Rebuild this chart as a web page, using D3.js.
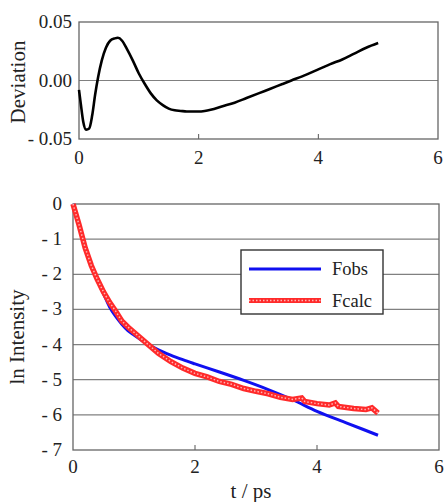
<!DOCTYPE html>
<html>
<head>
<meta charset="utf-8">
<script src="https://cdn.jsdelivr.net/npm/d3@7"></script>
<style>
  body { margin: 0; background: #fff; }
  text { font-family: "Liberation Serif", "Times New Roman", serif; fill: #222; }
</style>
</head>
<body>
<div id="chart"></div>
<script>
// deviation (top panel)
const devT = [0, 0.03, 0.07, 0.12, 0.17, 0.22, 0.27, 0.32, 0.38, 0.45, 0.52, 0.6, 0.65, 0.72, 0.8, 0.9, 1.0, 1.1, 1.2, 1.3, 1.4, 1.5, 1.6, 1.7, 1.8, 2.0, 2.1, 2.2, 2.4, 2.6, 2.8, 3.0, 3.2, 3.4, 3.55, 3.8, 4.0, 4.2, 4.4, 4.6, 4.8, 5.0];
const devV = [-0.008, -0.02, -0.035, -0.042, -0.041, -0.03, -0.012, 0.003, 0.017, 0.028, 0.034, 0.036, 0.0365, 0.034, 0.027, 0.017, 0.006, -0.003, -0.011, -0.017, -0.021, -0.024, -0.0255, -0.026, -0.0265, -0.0265, -0.026, -0.025, -0.022, -0.019, -0.015, -0.011, -0.007, -0.003, 0.0, 0.005, 0.0095, 0.014, 0.018, 0.023, 0.028, 0.032];

// ln intensity (bottom panel)
const obsT = [0, 0.1, 0.2, 0.3, 0.4, 0.5, 0.6, 0.7, 0.8, 0.9, 1.0, 1.2, 1.4, 1.6, 1.8, 2.0, 2.4, 2.8, 3.2, 3.6, 4.0, 4.5, 5.0];
const obsV = [0, -0.62, -1.2, -1.72, -2.17, -2.55, -2.93, -3.2, -3.42, -3.6, -3.73, -3.96, -4.15, -4.3, -4.43, -4.55, -4.78, -5.02, -5.28, -5.57, -5.9, -6.24, -6.58];
const calcT = [0, 0.1, 0.2, 0.3, 0.4, 0.5, 0.6, 0.7, 0.8, 0.9, 1.0, 1.2, 1.4, 1.6, 1.8, 2.0, 2.2, 2.4, 2.6, 2.8, 3.0, 3.2, 3.4, 3.6, 3.75, 3.8, 4.0, 4.2, 4.3, 4.35, 4.6, 4.8, 4.9, 5.0];
const calcV = [0, -0.6, -1.25, -1.75, -2.15, -2.5, -2.8, -3.05, -3.33, -3.5, -3.65, -3.95, -4.25, -4.48, -4.67, -4.82, -4.92, -5.05, -5.13, -5.25, -5.33, -5.4, -5.5, -5.56, -5.52, -5.62, -5.68, -5.72, -5.66, -5.76, -5.82, -5.85, -5.8, -5.95];

const xTicks = [0, 2, 4, 6];
const devTicks = [0.05, 0, -0.05];
const devTickLabels = ["0.05", "0.00", "- 0.05"];
const lnTicks = [0, -1, -2, -3, -4, -5, -6, -7];
const lnTickLabels = ["0", "- 1", "- 2", "- 3", "- 4", "- 5", "- 6", "- 7"];
const seriesNames = ["Fobs", "Fcalc"];

const width = 444, height = 502;
const svg = d3.select("#chart").append("svg")
  .attr("width", width)
  .attr("height", height)
  .style("background", "#fff");

/**
 * Top panel
 */
const xTop = d3.scaleLinear().domain([0, 6]).range([79, 438]);
const yTop = d3.scaleLinear().domain([-0.05, 0.05]).range([139, 22]);

svg.append("line")
  .attr("x1", xTop(0)).attr("x2", xTop(6))
  .attr("y1", yTop(0)).attr("y2", yTop(0))
  .attr("stroke", "#808080").attr("stroke-width", 1.2);

svg.append("g").selectAll("line")
  .data(xTicks.slice(1, 3))
  .join("line")
  .attr("x1", d => xTop(d)).attr("x2", d => xTop(d))
  .attr("y1", yTop(-0.05)).attr("y2", yTop(-0.05) - 5)
  .attr("stroke", "#555");

svg.append("rect")
  .attr("x", xTop(0)).attr("y", yTop(0.05))
  .attr("width", xTop(6) - xTop(0)).attr("height", yTop(-0.05) - yTop(0.05))
  .attr("fill", "none").attr("stroke", "#666").attr("stroke-width", 1.3);

svg.append("path")
  .datum(devT.map((t, i) => [t, devV[i]]))
  .attr("d", d3.line().x(d => xTop(d[0])).y(d => yTop(d[1])).curve(d3.curveMonotoneX))
  .attr("fill", "none").attr("stroke", "#000").attr("stroke-width", 2.6);

svg.append("g").selectAll("text")
  .data(xTicks)
  .join("text")
  .attr("x", d => xTop(d)).attr("y", 164)
  .attr("text-anchor", "middle").style("font-size", "19px")
  .text(d => d);

svg.append("g").selectAll("text")
  .data(devTicks)
  .join("text")
  .attr("x", 72).attr("y", d => yTop(d) + 6)
  .attr("text-anchor", "end").style("font-size", "19px")
  .text((d, i) => devTickLabels[i]);

svg.append("text")
  .attr("transform", "translate(25, 82) rotate(-90)")
  .attr("text-anchor", "middle").style("font-size", "21px")
  .text("Deviation");

/**
 * Bottom panel
 */
const xBot = d3.scaleLinear().domain([0, 6]).range([73, 439]);
const yBot = d3.scaleLinear().domain([-7, 0]).range([450, 204]);

svg.append("g").selectAll("line")
  .data(lnTicks.slice(1, 7))
  .join("line")
  .attr("x1", xBot(0)).attr("x2", xBot(6))
  .attr("y1", d => yBot(d)).attr("y2", d => yBot(d))
  .attr("stroke", "#808080").attr("stroke-width", 1.2);

svg.append("g").selectAll("line")
  .data(xTicks.slice(1, 3))
  .join("line")
  .attr("x1", d => xBot(d)).attr("x2", d => xBot(d))
  .attr("y1", yBot(-7)).attr("y2", yBot(-7) - 5)
  .attr("stroke", "#555");

svg.append("rect")
  .attr("x", xBot(0)).attr("y", yBot(0))
  .attr("width", xBot(6) - xBot(0)).attr("height", yBot(-7) - yBot(0))
  .attr("fill", "none").attr("stroke", "#666").attr("stroke-width", 1.3);

const lineBot = d3.line().x(d => xBot(d[0])).y(d => yBot(d[1]));

svg.append("path")
  .datum(obsT.map((t, i) => [t, obsV[i]]))
  .attr("d", lineBot.curve(d3.curveMonotoneX))
  .attr("fill", "none").attr("stroke", "#1010f0").attr("stroke-width", 3);

const calcData = calcT.map((t, i) => [t, calcV[i]]);
svg.append("path")
  .datum(calcData)
  .attr("d", lineBot.curve(d3.curveLinear))
  .attr("fill", "none").attr("stroke", "#ff2a2a").attr("stroke-width", 5.5);
svg.append("path")
  .datum(calcData)
  .attr("d", lineBot.curve(d3.curveLinear))
  .attr("fill", "none").attr("stroke", "#ffb4b4").attr("stroke-width", 1.5)
  .attr("stroke-dasharray", "1.5,2");

svg.append("g").selectAll("text")
  .data(xTicks)
  .join("text")
  .attr("x", d => xBot(d)).attr("y", 473)
  .attr("text-anchor", "middle").style("font-size", "19px")
  .text(d => d);

svg.append("g").selectAll("text")
  .data(lnTicks)
  .join("text")
  .attr("x", 62).attr("y", d => yBot(d) + 6)
  .attr("text-anchor", "end").style("font-size", "19px")
  .text((d, i) => lnTickLabels[i]);

svg.append("text")
  .attr("transform", "translate(24, 337) rotate(-90)")
  .attr("text-anchor", "middle").style("font-size", "21px")
  .text("ln Intensity");

svg.append("text")
  .attr("x", 251).attr("y", 498)
  .attr("text-anchor", "middle").style("font-size", "21px")
  .text("t / ps");

/**
 * Legend
 */
const legend = svg.append("g").attr("transform", "translate(241, 250)");
legend.append("rect")
  .attr("width", 142).attr("height", 64)
  .attr("fill", "#fff").attr("stroke", "#333").attr("stroke-width", 1.4);

const legendItems = legend.selectAll("g")
  .data(seriesNames)
  .join("g")
  .attr("transform", (d, i) => `translate(0, ${19 + i * 31.5})`);

legendItems.append("line")
  .attr("x1", 8).attr("x2", 80)
  .attr("stroke", (d, i) => i === 0 ? "#1010f0" : "#ff2a2a")
  .attr("stroke-width", (d, i) => i === 0 ? 3 : 5);
legendItems.filter((d, i) => i === 1).append("line")
  .attr("x1", 8).attr("x2", 80)
  .attr("stroke", "#ffb4b4").attr("stroke-width", 1.5)
  .attr("stroke-dasharray", "1.5,2");

legendItems.append("text")
  .attr("x", 91).attr("y", 6)
  .style("font-size", "18.5px")
  .text(d => d);
</script>
</body>
</html>
